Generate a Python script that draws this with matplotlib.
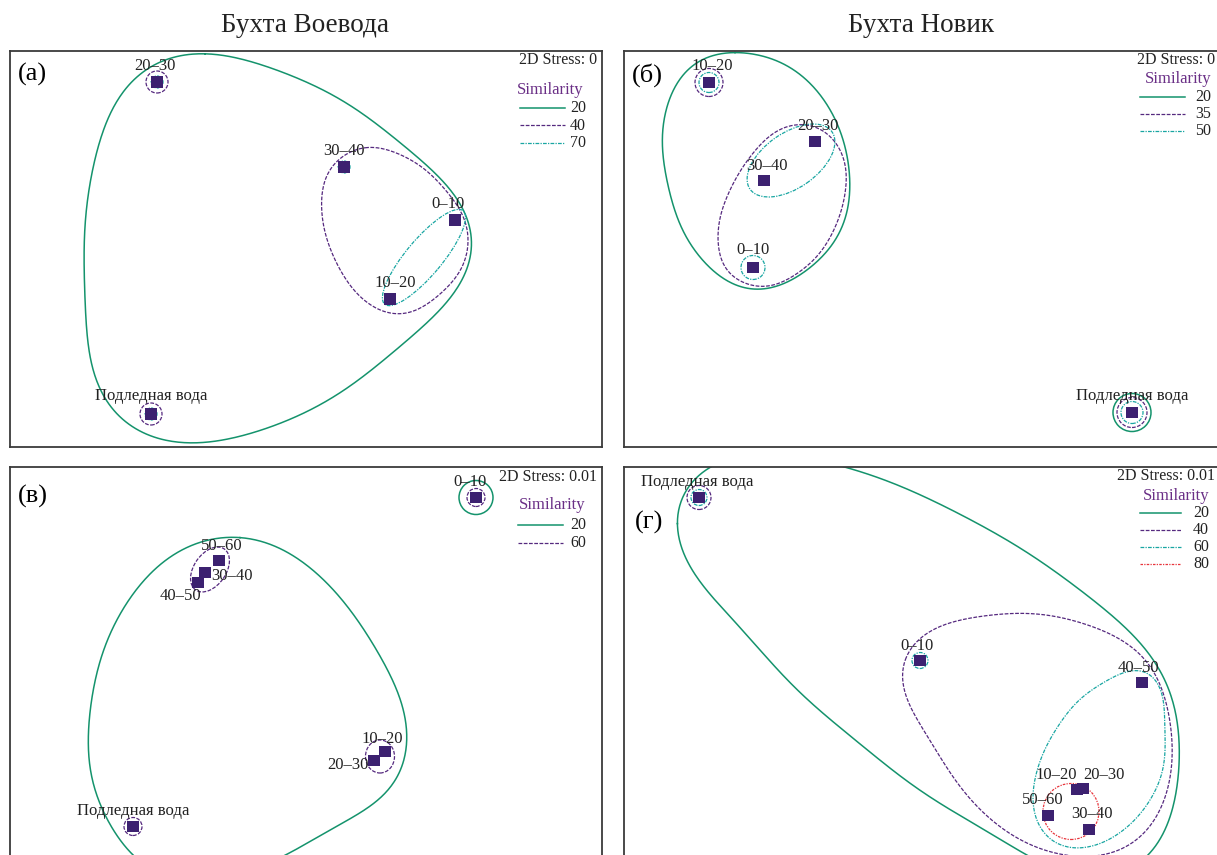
import numpy as np
import matplotlib
matplotlib.use("Agg")
import matplotlib.pyplot as plt
from matplotlib.patches import Ellipse, Circle
from matplotlib.lines import Line2D

plt.rcParams['font.family'] = ['Liberation Serif', 'DejaVu Serif']

FIG_W, FIG_H = 1217, 855

GREEN = '#14936c'
PURPLE = '#55297f'
TEAL = '#19a6a2'
RED = '#e8353c'
MARKER = '#3c2170'
TITLE_PURPLE = '#6a2f86'

STYLE = {
    'green': dict(color=GREEN, ls='-', lw=1.1),
    'purple': dict(color=PURPLE, ls=(0, (3.0, 1.2)), lw=0.9),
    'teal': dict(color=TEAL, ls=(0, (3.0, 1.0, 1.0, 1.0)), lw=0.9),
    'red': dict(color=RED, ls=(0, (2.0, 1.0, 1.0, 1.0)), lw=0.9),
}

# ---------------- (а) Бухта Воевода ----------------
a_samples = ['0–10', '10–20', '20–30', '30–40', 'Подледная вода']
a_x = [1.49, 0.84, -1.49, 0.38, -1.55]
a_y = [0.29, -0.50, 1.67, 0.82, -1.65]
a_levels = [20, 40, 70]
a_stress = '0'
a_green_x = [-1.01, -0.06, 0.84, 1.42, 1.67, 1.49, 0.84, -0.06, -1.11, -1.71, -2.06, -2.21, -2.18, -1.96, -1.56]
a_green_y = [1.95, 1.70, 1.15, 0.60, 0.12, -0.41, -1.06, -1.66, -1.94, -1.79, -1.41, -0.51, 0.50, 1.35, 1.82]
a_purple_x = [0.59, 1.04, 1.39, 1.60, 1.59, 1.39, 0.99, 0.64, 0.34, 0.16, 0.24]
a_purple_y = [1.015, 0.895, 0.595, 0.245, -0.105, -0.405, -0.645, -0.555, -0.205, 0.345, 0.795]
a_teal_ellipse = (1.18, -0.085, 1.22, 0.36, 50)
a_rings = [(2, 'purple', 0.11), (2, 'teal', 0.06), (3, 'teal', 0.06),
           (4, 'purple', 0.11), (4, 'teal', 0.06)]

# ---------------- (б) Бухта Новик ----------------
b_samples = ['0–10', '10–20', '20–30', '30–40', 'Подледная вода']
b_x = [-1.70, -2.14, -1.08, -1.59, 2.09]
b_y = [-0.185, 1.665, 1.075, 0.685, -1.635]
b_levels = [20, 35, 50]
b_stress = '0'
b_green_x = [-1.88, -1.33, -0.93, -0.74, -0.80, -1.15, -1.66, -2.05, -2.38, -2.58, -2.58, -2.33]
b_green_y = [1.965, 1.815, 1.395, 0.795, 0.245, -0.205, -0.405, -0.255, 0.145, 0.795, 1.345, 1.815]
b_purple_x = [-1.23, -0.95, -0.78, -0.83, -1.11, -1.58, -1.95, -2.05, -1.95, -1.71, -1.48]
b_purple_y = [1.245, 1.145, 0.845, 0.345, -0.125, -0.375, -0.225, 0.145, 0.545, 0.945, 1.165]
b_teal_ellipse = (-1.32, 0.885, 1.00, 0.55, 35)
b_rings = [(1, 'purple', 0.14), (1, 'teal', 0.10), (0, 'teal', 0.12),
           (4, 'green', 0.19), (4, 'purple', 0.15), (4, 'teal', 0.11)]

# ---------------- (в) Бухта Воевода ----------------
c_samples = ['0–10', '10–20', '20–30', '30–40', '40–50', '50–60', 'Подледная вода']
c_x = [1.70, 0.79, 0.68, -1.01, -1.08, -0.87, -1.73]
c_y = [1.675, -0.865, -0.955, 0.925, 0.825, 1.045, -1.615]
c_levels = [20, 60]
c_stress = '0.01'
c_green_x = [-0.66, -0.06, 0.39, 0.79, 0.99, 0.98, 0.74, 0.37, -0.19, -0.91, -1.56, -1.94,
             -2.13, -2.17, -2.11, -1.86, -1.46, -1.06]
c_green_y = [1.275, 1.055, 0.605, 0.005, -0.545, -0.945, -1.345, -1.565, -1.895, -2.125, -2.045, -1.605,
             -1.215, -0.845, -0.145, 0.505, 1.005, 1.225]
c_purple_ellipses = [(-0.96, 0.955, 0.50, 0.32, 55), (0.74, -0.915, 0.29, 0.33, 0)]
c_rings = [(0, 'green', 0.17), (0, 'purple', 0.09), (6, 'purple', 0.09)]

# ---------------- (г) Бухта Новик ----------------
d_samples = ['0–10', '10–20', '20–30', '30–40', '40–50', '50–60', 'Подледная вода']
d_x = [-0.03, 1.54, 1.60, 1.66, 2.19, 1.25, -2.24]
d_y = [0.045, -1.245, -1.235, -1.645, -0.175, -1.505, 1.675]
d_levels = [20, 40, 60, 80]
d_stress = '0.01'
d_green_x = [-2.47, -2.33, -2.08, -1.63, -0.83, 0.07, 1.07, 1.87, 2.37, 2.55, 2.53, 2.37, 1.97,
             1.37, 0.77, -0.03, -0.93, -1.73, -2.23]
d_green_y = [1.405, 1.805, 2.005, 2.105, 1.995, 1.655, 1.105, 0.505, -0.045, -0.645, -1.245, -1.745, -2.095,
             -2.045, -1.745, -1.245, -0.545, 0.255, 0.855]
d_purple_x = [-0.18, 0.07, 0.57, 1.17, 1.77, 2.22, 2.42, 2.49, 2.37, 2.07, 1.62, 1.07, 0.57, 0.22, -0.08, -0.20]
d_purple_y = [0.055, 0.335, 0.485, 0.505, 0.355, 0.055, -0.345, -0.945, -1.445, -1.795, -1.915, -1.795,
              -1.445, -0.995, -0.495, -0.195]
d_teal_x = [1.97, 2.22, 2.37, 2.42, 2.37, 2.07, 1.67, 1.32, 1.12, 1.12, 1.27, 1.57]
d_teal_y = [-0.095, -0.065, -0.245, -0.645, -1.145, -1.595, -1.815, -1.775, -1.495, -1.145, -0.745, -0.345]
d_red_circle = (1.48, -1.465, 0.28)
d_rings = [(6, 'purple', 0.12), (6, 'teal', 0.08), (0, 'teal', 0.08)]


def closed_spline(x, y, n=40):
    """Centripetal Catmull-Rom curve through the points, closed."""
    P = np.column_stack([x, y]).astype(float)
    m = len(P)
    segs = []
    for i in range(m):
        p0, p1, p2, p3 = P[(i - 1) % m], P[i], P[(i + 1) % m], P[(i + 2) % m]
        t0 = 0.0
        t1 = t0 + np.linalg.norm(p1 - p0) ** 0.5
        t2 = t1 + np.linalg.norm(p2 - p1) ** 0.5
        t3 = t2 + np.linalg.norm(p3 - p2) ** 0.5
        t = np.linspace(t1, t2, n, endpoint=False)[:, None]
        a1 = (t1 - t) / (t1 - t0) * p0 + (t - t0) / (t1 - t0) * p1
        a2 = (t2 - t) / (t2 - t1) * p1 + (t - t1) / (t2 - t1) * p2
        a3 = (t3 - t) / (t3 - t2) * p2 + (t - t2) / (t3 - t2) * p3
        b1 = (t2 - t) / (t2 - t0) * a1 + (t - t0) / (t2 - t0) * a2
        b2 = (t3 - t) / (t3 - t1) * a2 + (t - t1) / (t3 - t1) * a3
        segs.append((t2 - t) / (t2 - t1) * b1 + (t - t1) / (t2 - t1) * b2)
    C = np.vstack(segs + [segs[0][:1]])
    return C[:, 0], C[:, 1]


def smooth_outline(x, y, harmonics=8, n=600):
    """Closed spline, resampled by arc length and low-pass filtered."""
    cx, cy = closed_spline(x, y)
    s = np.concatenate([[0], np.cumsum(np.hypot(np.diff(cx), np.diff(cy)))])
    u = np.linspace(0, s[-1], n, endpoint=False)
    z = np.interp(u, s, cx) + 1j * np.interp(u, s, cy)
    Z = np.fft.fft(z)
    Z[harmonics + 1:-harmonics] = 0
    zz = np.fft.ifft(Z)
    zz = np.append(zz, zz[0])
    return zz.real, zz.imag


fig = plt.figure(figsize=(FIG_W / 100, FIG_H / 100), dpi=100)


def fx(px):
    return px / FIG_W


def fy(py):
    return 1 - py / FIG_H


def make_axes(x0, y0, x1, y1):
    ax = fig.add_axes([fx(x0), fy(y1), (x1 - x0) / FIG_W, (y1 - y0) / FIG_H])
    w, h = (x1 - x0) / 100, (y1 - y0) / 100
    ax.set_xlim(-w / 2, w / 2)
    ax.set_ylim(-h / 2, h / 2)
    ax.set_xticks([])
    ax.set_yticks([])
    for s in ax.spines.values():
        s.set_linewidth(1.3)
        s.set_color('#3a3a3a')
    return ax


def draw_curve(ax, x, y, key, harmonics=8):
    sx, sy = smooth_outline(x, y, harmonics)
    ax.plot(sx, sy, **STYLE[key], zorder=2)


def draw_ellipse(ax, params, key):
    cx, cy, w, h, ang = params
    st = STYLE[key]
    ax.add_patch(Ellipse((cx, cy), w, h, angle=ang, fill=False, edgecolor=st['color'],
                         linestyle=st['ls'], linewidth=st['lw'], zorder=2))


def draw_rings(ax, xs, ys, rings):
    for idx, key, r in rings:
        st = STYLE[key]
        ax.add_patch(Circle((xs[idx], ys[idx]), r, fill=False, edgecolor=st['color'],
                            linestyle=st['ls'], linewidth=st['lw'], zorder=2))


def draw_points(ax, xs, ys, names, offsets):
    ax.scatter(xs, ys, marker='s', s=70, color=MARKER, edgecolors='none', zorder=4)
    for x, y, name in zip(xs, ys, names):
        dx, dy, ha = offsets[name]
        ax.annotate(name, (x, y), xytext=(dx, dy), textcoords='offset pixels',
                    ha=ha, va='center', fontsize=12, color='#222222', zorder=5)


def draw_key(stress, levels, keys, stress_xy, sim_xy, line_x, num_x, rows_y):
    fig.text(fx(stress_xy[0]), fy(stress_xy[1]), f'2D Stress: {stress}', ha='right',
             va='center', fontsize=11.5, color='#222222')
    fig.text(fx(sim_xy[0]), fy(sim_xy[1]), 'Similarity', ha='center', va='center',
             fontsize=12, color=TITLE_PURPLE)
    for lev, key, yy in zip(levels, keys, rows_y):
        st = STYLE[key]
        fig.add_artist(Line2D([fx(line_x[0]), fx(line_x[1])], [fy(yy), fy(yy)],
                              transform=fig.transFigure, color=st['color'],
                              linestyle=st['ls'], linewidth=st['lw']))
        fig.text(fx(num_x), fy(yy), str(lev), ha='left', va='center', fontsize=11.5,
                 color='#222222')


# Column headers
fig.text(fx(305), fy(25), 'Бухта Воевода', ha='center', va='center', fontsize=19.5, color='#222222')
fig.text(fx(921), fy(25), 'Бухта Новик', ha='center', va='center', fontsize=19.5, color='#222222')

# ---- panel (а)
ax = make_axes(10, 51, 602, 447)
draw_curve(ax, a_green_x, a_green_y, 'green')
draw_curve(ax, a_purple_x, a_purple_y, 'purple')
draw_ellipse(ax, a_teal_ellipse, 'teal')
draw_rings(ax, a_x, a_y, a_rings)
draw_points(ax, a_x, a_y, a_samples, {
    '0–10': (-7, 16, 'center'), '10–20': (5, 16, 'center'), '20–30': (-2, 16, 'center'),
    '30–40': (0, 16, 'center'), 'Подледная вода': (0, 18, 'center')})
ax.text(0.014, 0.94, '(а)', transform=ax.transAxes, ha='left', va='center', fontsize=19)
draw_key(a_stress, a_levels, ['green', 'purple', 'teal'], (597, 60), (550, 90),
         (520, 565), 570, [108, 125.5, 143])

# ---- panel (б)
ax = make_axes(624, 51, 1222, 447)
draw_curve(ax, b_green_x, b_green_y, 'green')
draw_curve(ax, b_purple_x, b_purple_y, 'purple')
draw_ellipse(ax, b_teal_ellipse, 'teal')
draw_rings(ax, b_x, b_y, b_rings)
draw_points(ax, b_x, b_y, b_samples, {
    '0–10': (0, 17, 'center'), '10–20': (3, 17, 'center'), '20–30': (3, 15, 'center'),
    '30–40': (3, 15, 'center'), 'Подледная вода': (0, 16, 'center')})
ax.text(0.014, 0.94, '(б)', transform=ax.transAxes, ha='left', va='center', fontsize=19)
draw_key(b_stress, b_levels, ['green', 'purple', 'teal'], (1215, 60), (1178, 79),
         (1140, 1185), 1195, [97, 114, 131])

# ---- panel (в)
ax = make_axes(10, 467, 602, 863)
draw_curve(ax, c_green_x, c_green_y, 'green')
for e in c_purple_ellipses:
    draw_ellipse(ax, e, 'purple')
draw_rings(ax, c_x, c_y, c_rings)
draw_points(ax, c_x, c_y, c_samples, {
    '0–10': (-6, 15, 'center'), '10–20': (-3, 13, 'center'), '20–30': (-5, -4, 'right'),
    '30–40': (6, -3, 'left'), '40–50': (3, -13, 'right'), '50–60': (3, 15, 'center'),
    'Подледная вода': (0, 16, 'center')})
ax.text(0.014, 0.925, '(в)', transform=ax.transAxes, ha='left', va='center', fontsize=19)
draw_key(c_stress, c_levels, ['green', 'purple'], (597, 477), (552, 505),
         (518, 563), 570, [525, 543])

# ---- panel (г)
ax = make_axes(624, 467, 1222, 863)
draw_curve(ax, d_green_x, d_green_y, 'green')
draw_curve(ax, d_purple_x, d_purple_y, 'purple')
draw_curve(ax, d_teal_x, d_teal_y, 'teal')
ax.add_patch(Circle(d_red_circle[:2], d_red_circle[2], fill=False, edgecolor=RED,
                    linestyle=STYLE['red']['ls'], linewidth=STYLE['red']['lw'], zorder=3))
draw_rings(ax, d_x, d_y, d_rings)
draw_points(ax, d_x, d_y, d_samples, {
    '0–10': (-3, 15, 'center'), '10–20': (-21, 15, 'center'), '20–30': (21, 14, 'center'),
    '30–40': (3, 16, 'center'), '40–50': (-4, 15, 'center'), '50–60': (-5, 16, 'center'),
    'Подледная вода': (-2, 16, 'center')})
ax.text(0.018, 0.86, '(г)', transform=ax.transAxes, ha='left', va='center', fontsize=19)
draw_key(d_stress, d_levels, ['green', 'purple', 'teal', 'red'], (1215, 476), (1176, 496),
         (1140, 1181), 1193, [513, 530, 547, 564])

fig.savefig('out.png', dpi=100)
